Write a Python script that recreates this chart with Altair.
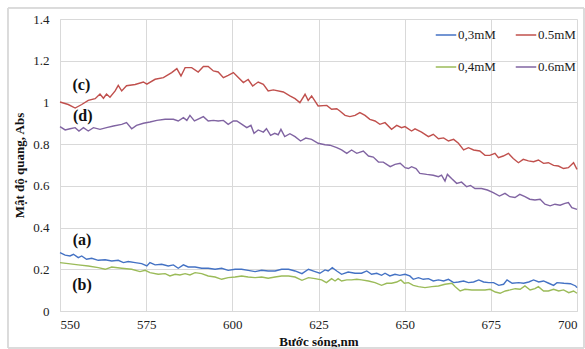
import altair as alt
import pandas as pd

# ---------------- data ----------------
wl_03 = [550, 551.5, 552.9, 553.9, 555.3, 556.3, 557.7, 559.2, 561.1, 563.1, 565, 566.9, 568.4, 569.8,
         571.8, 573.7, 575.2, 576.1, 577.6, 579.5, 581.4, 582.9, 584.3, 585.8, 587.2, 589.2, 591.1, 593,
         595, 596.9, 598.8, 600.8, 602.7, 604.6, 606.6, 608.5, 610.4, 612.4, 614.3, 616.3, 618.2, 620.2,
         622.1, 624, 625.4, 626.9, 627.8, 629, 630.3, 631.7, 633.6, 635.6, 637.5, 639, 640.4, 641.9,
         643.3, 644.3, 645.7, 647.2, 648.6, 650.1, 651.5, 652.5, 654, 655.4, 656.9, 658.3, 659.8, 661.3,
         662.7, 664.2, 665.6, 667.1, 668.5, 670, 671.5, 672.9, 674.4, 675.8, 677.3, 678.7, 679.7, 681.2,
         683.1, 684.5, 686, 687.4, 688.9, 690.3, 691.8, 693.2, 694.2, 696.2, 698.1, 699.6, 700]
abs_03 = [0.28, 0.268, 0.264, 0.272, 0.256, 0.264, 0.248, 0.253, 0.243, 0.246, 0.24, 0.243, 0.232, 0.237,
          0.232, 0.227, 0.216, 0.232, 0.221, 0.224, 0.216, 0.221, 0.205, 0.221, 0.211, 0.211, 0.205, 0.205,
          0.2, 0.205, 0.195, 0.2, 0.2, 0.195, 0.189, 0.195, 0.192, 0.192, 0.2, 0.2, 0.192, 0.179,
          0.2, 0.189, 0.181, 0.197, 0.192, 0.208, 0.192, 0.176, 0.187, 0.181, 0.181, 0.192, 0.176, 0.181,
          0.171, 0.181, 0.168, 0.176, 0.171, 0.176, 0.168, 0.152, 0.16, 0.152, 0.155, 0.144, 0.149, 0.144,
          0.152, 0.136, 0.139, 0.144, 0.136, 0.139, 0.149, 0.139, 0.136, 0.136, 0.123, 0.128, 0.149, 0.133,
          0.136, 0.133, 0.139, 0.149, 0.139, 0.144, 0.133, 0.123, 0.136, 0.133, 0.131, 0.12, 0.112]

wl_04 = [550, 552.4, 555.3, 558.2, 561.1, 563.1, 565, 567.9, 570.8, 573.2, 574.7, 576.1, 578.5, 580.5,
         581.9, 583.4, 584.8, 586.3, 587.7, 589.2, 591.1, 593, 595, 596.9, 598.8, 600.8, 602.7, 604.6,
         606.6, 608.5, 610.4, 612.4, 614.3, 616.3, 618.2, 620.2, 622.1, 624, 625.9, 627.3, 628.8, 629.8,
         630.7, 631.7, 633.2, 634.6, 636.1, 637.5, 639.5, 641.4, 643.3, 644.8, 646.2, 647.7, 648.9, 649.9,
         651.1, 652.5, 654, 655.9, 657.9, 659.8, 661.7, 663.7, 664.6, 666.1, 667.5, 669.5, 671.4, 673.3,
         674.8, 676.3, 677.7, 679.2, 680.6, 682.1, 683.5, 684.9, 686.4, 687.8, 688.8, 690.3, 691.7, 693.2,
         694.7, 696.1, 697.6, 699, 700]
abs_04 = [0.232, 0.227, 0.221, 0.216, 0.208, 0.2, 0.211, 0.205, 0.2, 0.189, 0.195, 0.184, 0.176, 0.179,
          0.168, 0.176, 0.173, 0.179, 0.173, 0.184, 0.179, 0.168, 0.163, 0.152, 0.16, 0.163, 0.168, 0.163,
          0.16, 0.163, 0.157, 0.163, 0.168, 0.168, 0.163, 0.147, 0.16, 0.155, 0.149, 0.136, 0.155, 0.144,
          0.155, 0.144, 0.149, 0.149, 0.152, 0.149, 0.144, 0.136, 0.123, 0.133, 0.133, 0.139, 0.149, 0.133,
          0.136, 0.123, 0.117, 0.112, 0.117, 0.12, 0.128, 0.133, 0.117, 0.096, 0.104, 0.101, 0.101, 0.101,
          0.104, 0.091, 0.085, 0.096, 0.101, 0.107, 0.104, 0.12, 0.101, 0.107, 0.117, 0.096, 0.096, 0.104,
          0.096, 0.101, 0.088, 0.096, 0.085]

wl_05 = [550, 552.4, 554.4, 556.3, 558.2, 560.2, 561.6, 562.6, 563.5, 564.5, 566, 566.9, 567.9, 569.3,
         571.8, 574.2, 575.2, 577.6, 580, 582.4, 583.9, 585.1, 586.3, 588.2, 590.1, 591.6, 593, 594.5,
         595.9, 597.4, 598.8, 600.3, 601.3, 603.2, 604.6, 605.9, 607.5, 609, 610.4, 611.9, 614.8, 616.7,
         618.2, 619.6, 621.1, 622, 623, 624.9, 627.4, 628.8, 630.3, 631.2, 632.7, 634.1, 635.6, 637,
         638.5, 639.9, 641.4, 642.8, 644.3, 646.2, 647.7, 649.1, 650.1, 652, 653, 654.9, 656.9, 658.3,
         659.8, 661.3, 662.7, 664.2, 665.6, 667.1, 668.5, 670, 671.8, 673.3, 674.7, 676.2, 677.2, 678.6,
         680.1, 681.5, 683, 684.4, 685.9, 687.4, 688.8, 690.3, 691.7, 693.2, 694.6, 696.1, 697.5, 699, 700]
abs_05 = [1.002, 0.99, 0.973, 0.99, 1.01, 1.018, 1.04, 1.02, 1.04, 1.025, 1.055, 1.082, 1.055, 1.08,
          1.086, 1.098, 1.088, 1.111, 1.119, 1.143, 1.162, 1.127, 1.167, 1.167, 1.146, 1.172, 1.172, 1.151,
          1.146, 1.119, 1.13, 1.143, 1.127, 1.095, 1.11, 1.079, 1.098, 1.087, 1.055, 1.06, 1.05, 1.031,
          1.018, 0.999, 1.039, 1.01, 1.031, 0.983, 0.986, 0.967, 0.97, 0.959, 0.938, 0.932, 0.938, 0.951,
          0.938, 0.919, 0.911, 0.895, 0.903, 0.871, 0.89, 0.879, 0.884, 0.863, 0.873, 0.858, 0.836, 0.847,
          0.826, 0.83, 0.815, 0.823, 0.804, 0.772, 0.783, 0.772, 0.767, 0.746, 0.746, 0.756, 0.735, 0.743,
          0.756, 0.731, 0.711, 0.727, 0.72, 0.716, 0.724, 0.708, 0.711, 0.698, 0.695, 0.683, 0.687, 0.711, 0.679]

wl_06 = [550, 551.5, 552.9, 554.4, 555.5, 556.8, 558.2, 559.7, 561.6, 563.5, 565.5, 567.9, 569.3, 570.8,
         572.2, 574.2, 576.1, 578.1, 580.5, 582.9, 584.3, 585.8, 586.8, 587.7, 589, 590.1, 591.6, 593,
         594.5, 595.9, 597.4, 598.8, 600.3, 601.3, 602.8, 604.2, 605.4, 606.3, 607.5, 609, 609.9, 611.1,
         612.3, 613.3, 614.1, 615.2, 616.7, 618.2, 619.8, 621.3, 623, 624.9, 626.9, 628.3, 630.3, 631.7,
         633.2, 634.6, 636.1, 638, 639.5, 640.9, 642.4, 643.8, 645.8, 647.2, 648.7, 650.1, 651.1, 652,
         653.3, 654.4, 656.4, 658.3, 659.8, 660.7, 661.7, 662.4, 663.6, 665.1, 666.5, 668, 669.1, 670.4,
         672.3, 674, 675.7, 677.5, 679.1, 680.5, 682, 683.4, 684.9, 686.3, 687.8, 689.3, 690.7, 692.2,
         693.6, 695.1, 696.5, 697.5, 698.5, 700]
abs_06 = [0.884, 0.868, 0.874, 0.879, 0.863, 0.879, 0.863, 0.879, 0.871, 0.879, 0.887, 0.895, 0.903, 0.874,
          0.89, 0.9, 0.906, 0.914, 0.919, 0.919, 0.911, 0.927, 0.914, 0.938, 0.911, 0.92, 0.932, 0.911,
          0.914, 0.911, 0.914, 0.895, 0.911, 0.911, 0.895, 0.879, 0.89, 0.852, 0.868, 0.858, 0.874, 0.842,
          0.852, 0.845, 0.871, 0.836, 0.85, 0.836, 0.815, 0.829, 0.823, 0.804, 0.797, 0.795, 0.783, 0.772,
          0.756, 0.772, 0.756, 0.767, 0.743, 0.738, 0.714, 0.714, 0.692, 0.703, 0.708, 0.687, 0.683, 0.692,
          0.683, 0.66, 0.655, 0.651, 0.644, 0.651, 0.623, 0.655, 0.635, 0.612, 0.618, 0.596, 0.602, 0.587,
          0.587, 0.58, 0.568, 0.551, 0.564, 0.548, 0.544, 0.559, 0.548, 0.536, 0.532, 0.536, 0.512, 0.504,
          0.512, 0.507, 0.516, 0.52, 0.496, 0.487]

series_names = ["0,3mM", "0.5mM", "0,4mM", "0.6mM"]   # legend order (row-wise)
series_colors = ["#4472C4", "#C0504D", "#9BBB59", "#8064A2"]

label_texts = ["(c)", "(d)", "(a)", "(b)"]
label_wl = [556.2, 556.6, 556.4, 556.4]
label_abs = [1.082, 0.933, 0.339, 0.123]

x_ticks = [550, 575, 600, 625, 650, 675, 700]
y_ticks = [0, 0.2, 0.4, 0.6, 0.8, 1.0, 1.2, 1.4]

# ---------------- build table ----------------
frames = []
for name, wl, ab in [("0,3mM", wl_03, abs_03), ("0,4mM", wl_04, abs_04),
                     ("0.5mM", wl_05, abs_05), ("0.6mM", wl_06, abs_06)]:
    frames.append(pd.DataFrame({"wl": wl, "abs": ab, "series": name}))
df = pd.concat(frames, ignore_index=True)
labels_df = pd.DataFrame({"wl": label_wl, "abs": label_abs, "t": label_texts})

FONT = "Liberation Serif"
GRID = "#D9D9D9"

x_enc = alt.X("wl:Q", scale=alt.Scale(domain=[550, 700], nice=False),
              axis=alt.Axis(values=x_ticks, title="Bước sóng,nm", format="d",
                            grid=True, gridColor=GRID, domainColor=GRID, ticks=False,
                            labelPadding=7, titlePadding=4, labelFontSize=13,
                            titleFontSize=13, titleFontWeight="bold", labelColor="#222",
                            titleColor="#111", labelFont=FONT, titleFont=FONT))
y_enc = alt.Y("abs:Q", scale=alt.Scale(domain=[0, 1.4], nice=False),
              axis=alt.Axis(values=y_ticks, title="Mật độ quang, Abs", format="~g",
                            grid=True, gridColor=GRID, domainColor=GRID, ticks=False,
                            labelPadding=11, titlePadding=6, labelFontSize=13,
                            titleFontSize=13, titleFontWeight="bold", labelColor="#222",
                            titleColor="#111", labelFont=FONT, titleFont=FONT))

lines = alt.Chart(df).mark_line(strokeWidth=1.4, interpolate="linear").encode(
    x=x_enc, y=y_enc,
    color=alt.Color("series:N",
                    scale=alt.Scale(domain=series_names, range=series_colors),
                    legend=alt.Legend(orient="none", legendX=375, legendY=5, columns=2,
                                      title=None, symbolType="stroke", symbolSize=420,
                                      symbolStrokeWidth=1.5, labelFont=FONT, labelFontSize=13,
                                      labelColor="#222", labelOffset=1, rowPadding=14,
                                      columnPadding=16, direction="horizontal")),
    detail="series:N",
)

texts = alt.Chart(labels_df).mark_text(font=FONT, fontSize=16, fontWeight="bold",
                                       color="#111").encode(
    x="wl:Q", y="abs:Q", text="t:N")

border = alt.Chart(labels_df).mark_rect(fill=None, stroke=GRID, strokeWidth=1, clip=False).encode(
    x=alt.value(-52), x2=alt.value(524), y=alt.value(-11), y2=alt.value(329))

chart = alt.layer(lines, texts, border).properties(
    width=517, height=292,
    autosize=alt.AutoSizeParams(type="none"),
    padding={"left": 60, "top": 19, "right": 8, "bottom": 38},
    background="white",
).configure_view(stroke=None)

chart.save("out.html", embed_options={"renderer": "svg", "actions": False})
